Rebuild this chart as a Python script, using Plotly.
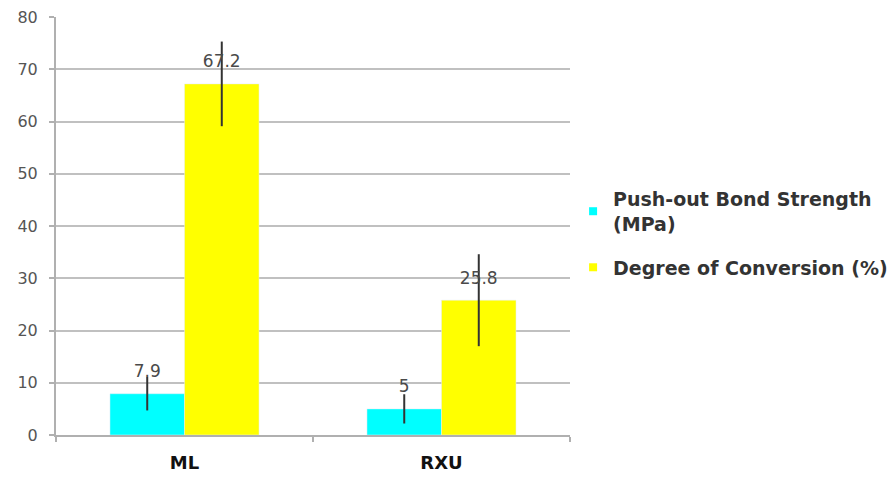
import plotly.graph_objects as go

categories = ["ML", "RXU"]
bond_strength = [7.9, 5]
bond_err = [3.2, 2.8]
conversion = [67.2, 25.8]
conversion_err = [8.1, 8.8]
bond_name = "<b>Push-out Bond Strength<br>(MPa)</b>"
conv_name = "<b>Degree of Conversion (%)</b>"
cyan = "#00FFFF"
yellow = "#FFFF00"
FONT = "DejaVu Sans, Verdana, Arial"

fig = go.Figure()
fig.add_trace(go.Bar(
    x=categories, y=bond_strength, name=bond_name, marker_color=cyan, offsetgroup="a",
    error_y=dict(type="data", array=bond_err, color="#333333", thickness=2, width=0),
    showlegend=False,
))
fig.add_trace(go.Bar(
    x=categories, y=conversion, name=conv_name, marker_color=yellow, offsetgroup="b",
    error_y=dict(type="data", array=conversion_err, color="#333333", thickness=2, width=0),
    showlegend=False,
))
# value labels
for vals, grp in [(bond_strength, "a"), (conversion, "b")]:
    fig.add_trace(go.Scatter(
        x=categories, y=vals, mode="markers+text", offsetgroup=grp,
        text=[str(v) for v in vals], textposition="top center", cliponaxis=False,
        marker=dict(size=18, opacity=0), hoverinfo="skip", showlegend=False,
        textfont=dict(family=FONT, size=17, color="#4a4a4a"),
    ))
fig.add_trace(go.Scatter(x=[None], y=[None], mode="markers", name=bond_name, legendgroup="a",
                         marker=dict(symbol="square", size=8, color=cyan)))
fig.add_trace(go.Scatter(x=[None], y=[None], mode="markers", name=conv_name, legendgroup="b",
                         marker=dict(symbol="square", size=8, color=yellow)))

fig.update_layout(
    width=887, height=469,
    margin=dict(l=48, r=325, t=9, b=42, autoexpand=False),
    paper_bgcolor="white", plot_bgcolor="white",
    barmode="group", bargap=0.42, bargroupgap=0,
    scattermode="group", scattergap=0.42,
    font=dict(family=FONT, color="#444444"),
    legend=dict(x=1.006, y=0.61, xanchor="left", yanchor="top",
                font=dict(size=19, color="#333333", family=FONT),
                itemwidth=30, traceorder="grouped", tracegroupgap=16,
                bgcolor="rgba(0,0,0,0)"),
    showlegend=True,
)
fig.update_yaxes(range=[0, 80], dtick=10, showgrid=True, gridcolor="#c0c0c0", gridwidth=2,
                 showline=True, linecolor="#b0b0b0", linewidth=2, automargin=False,
                 ticks="outside", ticklen=5, tickcolor="#b0b0b0", tickwidth=2,
                 ticklabelstandoff=8, ticklabeloverflow="allow",
                 tickfont=dict(size=16, color="#555555", family=FONT), zeroline=False)
fig.update_xaxes(showline=True, linecolor="#b0b0b0", linewidth=2, showgrid=False, automargin=False,
                 tickfont=dict(size=18, color="#111111", family=FONT),
                 tickvals=categories, ticktext=["<b>ML</b>", "<b>RXU</b>"],
                 ticks="outside", tickson="boundaries", ticklen=5, tickcolor="#b0b0b0", tickwidth=2,
                 ticklabelstandoff=10)

fig.write_html("out.html")
